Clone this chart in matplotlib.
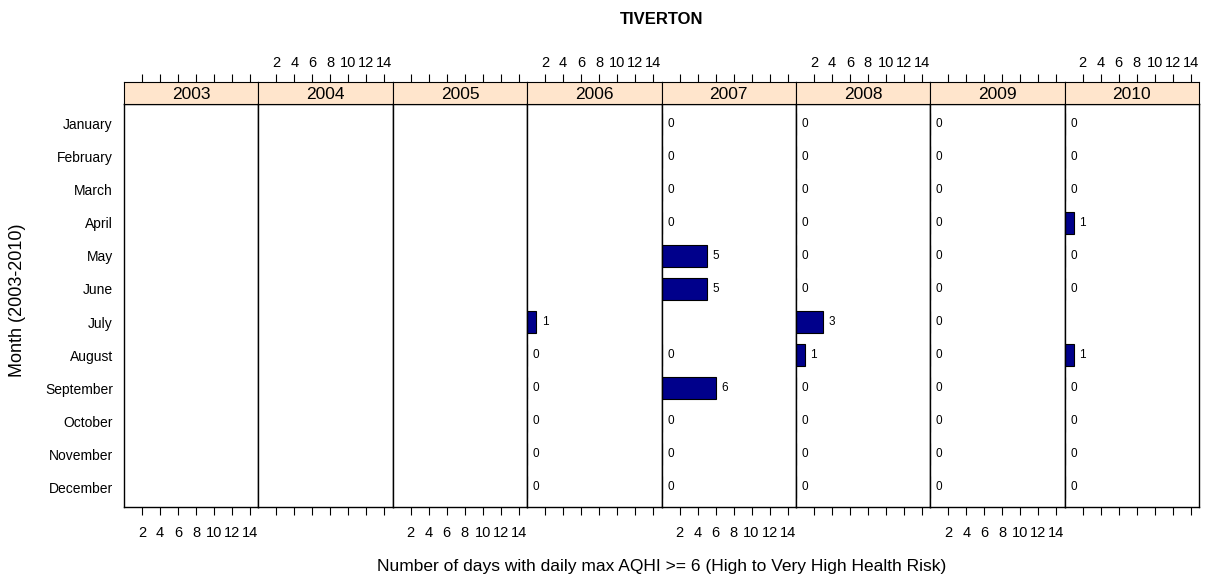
import matplotlib
matplotlib.use('Agg')
import matplotlib.pyplot as plt

plt.rcParams['font.family'] = ['Liberation Sans', 'DejaVu Sans']

years = ['2003', '2004', '2005', '2006', '2007', '2008', '2009', '2010']
months = ['January', 'February', 'March', 'April', 'May', 'June',
          'July', 'August', 'September', 'October', 'November', 'December']

# None = no data for that month (no bar, no label)
days_2003 = [None] * 12
days_2004 = [None] * 12
days_2005 = [None] * 12
days_2006 = [None, None, None, None, None, None, 1, 0, 0, 0, 0, 0]
days_2007 = [0, 0, 0, 0, 5, 5, None, 0, 6, 0, 0, 0]
days_2008 = [0, 0, 0, 0, 0, 0, 3, 1, 0, 0, 0, 0]
days_2009 = [0, 0, 0, 0, 0, 0, 0, 0, 0, 0, 0, 0]
days_2010 = [0, 0, 0, 1, 0, 0, None, 1, 0, 0, 0, 0]

values = [days_2003, days_2004, days_2005, days_2006,
          days_2007, days_2008, days_2009, days_2010]
xticks = [2, 4, 6, 8, 10, 12, 14]

W, H = 1205, 582
fig = plt.figure(figsize=(W / 100, H / 100), dpi=100)

left0, right0 = 124, 1199
panel_top, panel_bot = 104, 507
strip_h = 22
pw = (right0 - left0) / len(years)
xmax = 14.93

for i, (year, vals) in enumerate(zip(years, values)):
    left = left0 + i * pw
    ax = fig.add_axes([left / W, 1 - panel_bot / H, pw / W, (panel_bot - panel_top) / H])
    strip = fig.add_axes([left / W, 1 - panel_top / H, pw / W, strip_h / H])

    # strip with the year
    strip.set_facecolor('#FFE5CC')
    strip.set_xlim(0, xmax)
    strip.set_ylim(0, 1)
    strip.text(xmax / 2, 0.45, year, ha='center', va='center', fontsize=12.5)
    strip.set_yticks([])
    strip.set_xticks(xticks)
    strip.tick_params(axis='x', top=True, bottom=False, labelbottom=False,
                      labeltop=(i % 2 == 1), length=6, width=0.8, pad=2.5,
                      labelsize=10.5, direction='out')

    # bars
    pos = [j + 1 for j, v in enumerate(vals) if v is not None]
    v = [v for v in vals if v is not None]
    if v:
        ax.barh(pos, v, height=0.667, color='#00008B', edgecolor='black', linewidth=0.8)
        for p, val in zip(pos, v):
            ax.annotate(str(val), (val, p), xytext=(4, 0), textcoords='offset points',
                        va='center', ha='left', fontsize=8.5)

    ax.set_xlim(0, xmax)
    ax.set_ylim(12.6, 0.4)
    ax.set_xticks(xticks)
    ax.tick_params(axis='x', bottom=True, top=False, labelbottom=(i % 2 == 0),
                   length=6, width=0.8, pad=8, labelsize=10.5, direction='out')
    if i == 0:
        ax.set_yticks(range(1, 13))
        ax.set_yticklabels(months, fontsize=10)
        ax.tick_params(axis='y', length=0, pad=8)
    else:
        ax.set_yticks([])
    for sp in ax.spines.values():
        sp.set_linewidth(1.0)

cx = (left0 + right0) / 2 / W
fig.text(cx, 1 - 20 / H, 'TIVERTON', ha='center', va='center', fontsize=12, fontweight='bold')
fig.text(cx, 1 - 566 / H, 'Number of days with daily max AQHI >= 6 (High to Very High Health Risk)',
         ha='center', va='center', fontsize=12.5)
fig.text(18 / W, 1 - 300 / H, 'Month (2003-2010)', rotation=90, ha='center', va='center',
         fontsize=13)

fig.savefig('out.png', dpi=100)
